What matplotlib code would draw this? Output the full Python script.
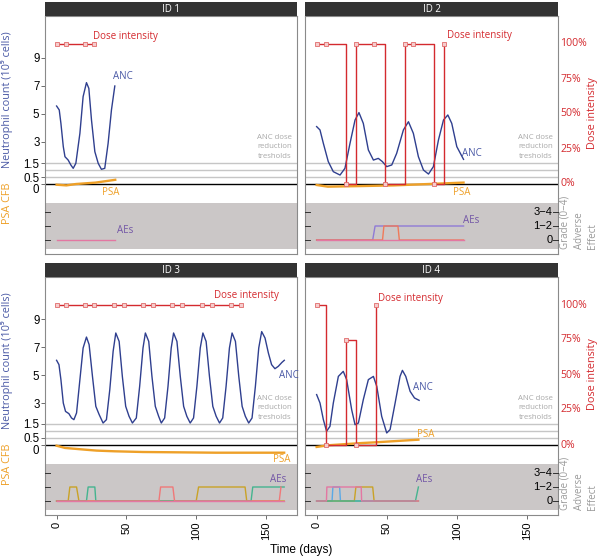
import matplotlib

matplotlib.use("Agg")
import matplotlib.pyplot as plt  # noqa: E402
from matplotlib.transforms import blended_transform_factory  # noqa: E402

# ---------------- data ----------------
panel_ids = ["ID 1", "ID 2", "ID 3", "ID 4"]

# neutrophil counts (10^9 cells)
anc1_t = [0, 1.9, 3.1, 4.8, 6.0, 8.3, 10.2, 11.9, 13.8, 16.7, 19.0, 21.4, 23.1,
          25.0, 27.4, 29.8, 32.1, 34.5, 36.9, 39.3, 41.7]
anc1_v = [5.57, 5.29, 4.33, 2.67, 1.95, 1.71, 1.36, 1.12, 1.48, 3.62, 6.24, 7.24,
          6.83, 4.57, 2.31, 1.48, 1.05, 1.12, 2.90, 5.29, 7.0]

anc2_t = [0, 2.4, 4.8, 8.3, 11.9, 16.7, 20.2, 23.8, 27.4, 30.2, 33.3, 36.9, 40.5,
          44.0, 46.9, 50, 53.6, 57.1, 61.9, 65.5, 69.0, 72.6, 76.2, 79.8, 83.3,
          86.9, 90.5, 93.6, 96.4, 100, 104.8]
anc2_v = [4.10, 3.86, 2.90, 1.60, 0.88, 0.64, 1.12, 2.90, 4.57, 5.10, 4.33, 2.43,
          1.71, 1.83, 1.60, 1.24, 1.36, 2.19, 3.86, 4.45, 3.62, 1.95, 1.0, 0.71,
          1.24, 3.14, 4.57, 4.93, 4.33, 2.67, 1.76]

anc3_t = [0, 1.7, 3.1, 4.8, 6.4, 8.8, 10.7, 12.4, 14.3, 16.7, 19.0, 21.4, 23.3,
          25.7, 28.1, 30.5, 33.3, 35.7, 38.1, 40.5, 42.4, 44.8, 47.1, 49.5, 51.9,
          54.3, 57.1, 59.5, 61.9, 63.6, 66.0, 68.3, 70.7, 73.1, 75.0, 77.4, 79.8,
          82.1, 83.8, 86.2, 88.6, 91.0, 93.3, 95.7, 98.1, 100.5, 102.9, 104.8,
          107.1, 109.5, 111.9, 114.3, 116.7, 119.0, 121.4, 123.8, 125.7, 128.1,
          130.5, 132.9, 135.2, 137.6, 140.0, 142.4, 144.8, 146.9, 149.3, 151.7,
          154.0, 156.4, 158.8, 161.4, 163.1]
anc3_v = [6.05, 5.74, 4.67, 3.0, 2.40, 2.24, 1.93, 1.81, 2.29, 4.67, 6.93, 7.71,
          7.17, 4.90, 2.76, 2.17, 1.57, 1.81, 3.95, 6.69, 8.0, 7.40, 4.90, 2.76,
          2.05, 1.57, 1.93, 4.19, 6.93, 8.0, 7.40, 4.90, 2.76, 2.05, 1.57, 1.93,
          4.19, 6.93, 8.0, 7.40, 4.90, 2.76, 2.05, 1.57, 1.93, 4.19, 6.93, 8.0,
          7.40, 4.90, 2.76, 2.05, 1.57, 1.93, 4.19, 6.93, 8.0, 7.40, 4.90, 2.76,
          2.05, 1.57, 1.93, 4.19, 6.93, 8.1, 7.64, 6.57, 5.74, 5.45, 5.62, 5.90,
          6.05]

anc4_t = [0, 2.4, 4.8, 7.1, 9.5, 11.9, 15.5, 19.0, 21.4, 25, 27.4, 29.8, 33.3,
          36.9, 40.5, 42.9, 46.4, 50, 52.4, 56, 59.5, 61.2, 63.6, 66.7, 69.8, 73.1]
anc4_v = [3.6, 3.0, 1.81, 0.98, 1.33, 3.0, 4.90, 5.26, 4.67, 2.52, 1.45, 1.57,
          3.24, 4.67, 4.90, 4.19, 2.05, 0.86, 1.10, 3.0, 4.90, 5.33, 4.90, 3.83,
          3.36, 3.19]

# PSA change from baseline (same axis units)
psa1_t = [0, 7, 14, 21, 28, 35, 42]
psa1_v = [-0.05, -0.1, 0.0, 0.05, 0.1, 0.2, 0.3]
psa2_t = [0, 8, 30, 55, 80, 104.8]
psa2_v = [-0.07, -0.19, -0.15, -0.1, 0.0, 0.1]
psa3_t = [0, 6, 20, 28.6, 41.7, 61.9, 83.3, 114, 163]
psa3_v = [-0.05, -0.21, -0.33, -0.40, -0.45, -0.5, -0.52, -0.55, -0.55]
psa4_t = [0, 8.3, 32, 41.7, 72.6]
psa4_v = [-0.14, -0.02, 0.14, 0.19, 0.38]

# dose intensity records (%)
dose1_t = [0, 7, 20, 27]
dose1_p = [100, 100, 100, 100]
dose2_t = [0, 7, 21, 28, 41, 49, 63, 69, 84, 91]
dose2_p = [100, 100, 0, 100, 100, 0, 100, 100, 0, 100]
dose3_t = [0, 7, 20, 27, 41, 48, 62, 69, 83, 90, 104, 111, 125, 132]
dose3_p = [100] * 14
dose4_t = [0, 7, 21, 28, 42]
dose4_p = [100, 0, 75, 0, 100]

# adverse events: grade level 0 = "0", 1 = "1-2", 2 = "3-4"
ae1 = [("#e377a2", [0, 41.7], [0, 0])]
ae2 = [("#8f7ad6", [0, 40, 41.7, 104.8], [0, 0, 1, 1]),
       ("#f07a5a", [0, 47, 48, 58, 59, 104.8], [0, 0, 1, 1, 0, 0]),
       ("#e377a2", [0, 104.8], [0, 0])]
ae3 = [("#c9a227", [0, 8.3, 9.5, 14.3, 16, 100, 101.7, 135, 136.2, 163],
        [0, 0, 1, 1, 0, 0, 1, 1, 0, 0]),
       ("#45b48f", [0, 21.4, 22.6, 27.4, 28.1, 139.3, 140.5, 163],
        [0, 0, 1, 1, 0, 0, 1, 1]),
       ("#f07878", [0, 73.3, 74.5, 83.3, 84.5, 159.5, 160.7],
        [0, 0, 1, 1, 0, 0, 1]),
       ("#e377a2", [0, 163], [0, 0])]
ae4 = [("#5aa9e6", [0, 11, 11.6, 16.4, 17, 72.6], [0, 0, 1, 1, 0, 0]),
       ("#c9a227", [0, 26.9, 28, 40, 41, 72.6], [0, 0, 1, 1, 0, 0]),
       ("#45b48f", [0, 70.5, 72.6], [0, 0, 1]),
       ("#e377a2", [0, 7, 7.3, 31.8, 32.1, 72.6], [0, 0, 1, 1, 0, 0])]

anc_ticks = [0, 0.5, 1.5, 3, 5, 7, 9]
threshold_levels = [0.5, 1.0, 1.5]
dose_ticks = [0, 25, 50, 75, 100]
ae_labels = ["0", "1\u22122", "3\u22124"]
x_ticks = [0, 50, 100, 150]

# label anchor positions (day, axis value) per panel
anc_lab = [(40.5, 7.7), (104, 2.2), (159.5, 4.96), (69, 4.14)]
psa_lab = [(38.7, -0.6), (103.5, -0.6), (161, -1.0), (78, 0.78)]
ae_lab = [(48.8, -3.33), (110, -2.62), (158.6, -2.48), (77, -2.43)]
dose_lab = [(26, 10.57), (92.8, 10.6), (112.6, 10.69), (44, 10.43)]

series = [
    (anc1_t, anc1_v, psa1_t, psa1_v, dose1_t, dose1_p, ae1),
    (anc2_t, anc2_v, psa2_t, psa2_v, dose2_t, dose2_p, ae2),
    (anc3_t, anc3_v, psa3_t, psa3_v, dose3_t, dose3_p, ae3),
    (anc4_t, anc4_v, psa4_t, psa4_v, dose4_t, dose4_p, ae4),
]

# ---------------- drawing ----------------
BLUE = "#2f3f8f"
BLUE_LAB = "#4b5aa6"
ORANGE = "#eea028"
RED = "#d42a2f"
PURPLE = "#7356a6"
GREY_TXT = "#a8a8a8"
LAB_FONT = ["Open Sans", "DejaVu Sans"]
TICK_FONT = ["Liberation Sans", "DejaVu Sans"]

fig = plt.figure(figsize=(6.02, 5.59), dpi=100)
W, H = 602, 559

# panel boxes in pixels: left, top, right, bottom
boxes = [(45, 16, 297, 254), (305, 16, 558, 254),
         (45, 277, 297, 515), (305, 277, 558, 515)]
strip_h = 14.5

for i, (pid, box) in enumerate(zip(panel_ids, boxes)):
    l, t, r, b = box
    ax = fig.add_axes([l / W, 1 - b / H, (r - l) / W, (b - t) / H])
    anc_t, anc_v, psa_t, psa_v, dose_t, dose_p, aes = series[i]
    left_col = i % 2 == 0
    bottom_row = i >= 2

    ax.set_xlim(-8.3, 172.2)
    ax.set_ylim(-5.0, 12.0)

    # background structure
    ax.axhspan(-4.67, -1.33, color="#cbc7c7", lw=0, zorder=0)
    for lv in threshold_levels:
        ax.axhline(lv, color="#c6c6c6", lw=1.0, zorder=1)
    ax.axhline(0, color="black", lw=1.0, zorder=2)

    # ANC
    ax.plot(anc_t, anc_v, color=BLUE, lw=1.0, zorder=4)
    # PSA
    ax.plot(psa_t, psa_v, color=ORANGE, lw=1.7, zorder=3)
    # dose intensity (scaled so 100% -> 10)
    dose_y = [p / 10 for p in dose_p]
    ax.step(dose_t, dose_y, where="post", color=RED, lw=1.0, zorder=5)
    ax.plot(dose_t, dose_y, ls="none", marker="s", ms=2.4, mfc="#f6cccc",
            mec="#e06a6a", mew=0.6, zorder=6)
    # AEs
    for col, at, ag in aes:
        ax.plot(at, [-4 + g for g in ag], color=col, lw=1.0, zorder=3)

    # annotations
    ax.text(*anc_lab[i], "ANC", color=BLUE_LAB, fontsize=7, family=LAB_FONT,
            ha="left", va="center")
    ax.text(*psa_lab[i], "PSA", color=ORANGE, fontsize=7, family=LAB_FONT,
            ha="center", va="center")
    ax.text(*ae_lab[i], "AEs", color=PURPLE, fontsize=7, family=LAB_FONT,
            ha="center", va="center")
    ax.text(*dose_lab[i], "Dose intensity", color=RED, fontsize=7,
            family=LAB_FONT, ha="left", va="center")
    ax.text(156, 2.66, "ANC dose\nreduction\ntresholds", color=GREY_TXT,
            fontsize=5.6, family=LAB_FONT, ha="center", va="center",
            linespacing=1.45)

    # spines
    for sp in ax.spines.values():
        sp.set_color("#8a8a8a")
        sp.set_linewidth(0.8)

    # ticks
    if left_col:
        ax.set_yticks(anc_ticks)
        labs = ax.set_yticklabels([("%g" % v) for v in anc_ticks],
                                  family=TICK_FONT, fontsize=8.3)
        # the 0 and 0.5 labels sit very close: drop the 0 label a little
        labs[0].set_va("top")
        ax.tick_params(axis="y", length=3, width=0.6, color="#555555", pad=1)
    else:
        ax.set_yticks([])
    # AE ticks inside left edge
    ae_tr = blended_transform_factory(ax.transAxes, ax.transData)
    for g in range(3):
        ax.plot([0, 0.018], [-4 + g, -4 + g], color="#333333", lw=0.7,
                transform=ae_tr, zorder=7, clip_on=False)

    if bottom_row:
        ax.set_xticks(x_ticks)
        ax.set_xticklabels([str(v) for v in x_ticks], rotation=90,
                           family=TICK_FONT, fontsize=8)
        ax.tick_params(axis="x", length=3, width=0.6, color="#555555", pad=2)
    else:
        ax.set_xticks([])

    fig_tr = blended_transform_factory(fig.transFigure, ax.transData)
    if not left_col:
        # dose intensity percentages on right
        for p in dose_ticks:
            ax.text(r / W + 0.004, p / 10, "%d%%" % p, color=RED, fontsize=7.6,
                    family=LAB_FONT, ha="left", va="center", transform=fig_tr)
        # AE grade labels, drawn inside the panel
        for g, lab in enumerate(ae_labels):
            ax.text(0.978, -4 + g, lab, color="black", fontsize=8,
                    family=TICK_FONT, ha="right", va="center", transform=ae_tr)
            ax.plot([0.982, 1.0], [-4 + g, -4 + g], color="#333333", lw=0.7,
                    transform=ae_tr, zorder=7, clip_on=False)
        ax.text(593 / W, 5.1, "Dose intensity", color=RED, fontsize=7.8,
                family=LAB_FONT, rotation=90, ha="center", va="center",
                transform=fig_tr)
        ax.text(579 / W, -4.65, "Grade (0\u22124)\nAdverse\nEffect",
                color="#9a9a9a", fontsize=7, family=LAB_FONT, rotation=90,
                ha="center", va="bottom", multialignment="left",
                linespacing=1.35, transform=fig_tr)
    else:
        ax.text(7 / W, 6.0, "Neutrophil count (10\u2079 cells)", color=BLUE_LAB,
                fontsize=7.8, family=LAB_FONT, rotation=90, ha="center",
                va="center", transform=fig_tr)
        ax.text(7 / W, -1.4, "PSA CFB", color=ORANGE, fontsize=7.8,
                family=LAB_FONT, rotation=90, ha="center", va="center",
                transform=fig_tr)

    # facet strip
    sax = fig.add_axes([l / W, 1 - t / H, (r - l) / W, strip_h / H])
    sax.set_facecolor("#333333")
    sax.set_xticks([])
    sax.set_yticks([])
    for sp in sax.spines.values():
        sp.set_visible(False)
    sax.text(0.5, 0.48, pid, color="white", fontsize=7, family=LAB_FONT,
             ha="center", va="center", transform=sax.transAxes)

fig.text(301 / W, 1 - 550 / H, "Time (days)", fontsize=8.6, family=TICK_FONT,
         ha="center", va="center")

fig.savefig("out.png", dpi=100)
